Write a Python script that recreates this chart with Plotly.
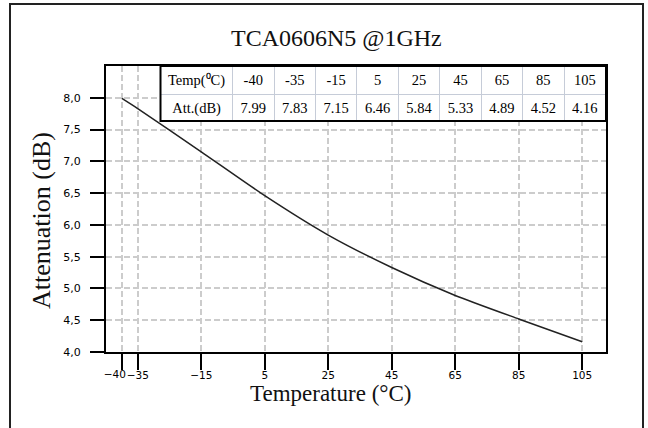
import plotly.graph_objects as go

temps = [-40, -35, -15, 5, 25, 45, 65, 85, 105]
atten = [7.99, 7.83, 7.15, 6.46, 5.84, 5.33, 4.89, 4.52, 4.16]
ytick_vals = [4.0, 4.5, 5.0, 5.5, 6.0, 6.5, 7.0, 7.5, 8.0]
title_text = "TCA0606N5 @1GHz"
x_title = "Temperature (°C)"
y_title = "Attenuation (dB)"
row_labels = ["Temp(\u2070C)", "Att.(dB)"]


def fmt_tick(t):
    return f"{t}".replace("-", "\u2212")


x_tick_text = [""] + [fmt_tick(t) for t in temps[1:]]
x_first_tick_text = [fmt_tick(temps[0])]

W, H = 648, 428
L, T = 106, 66
PW, PH = 500, 286
R, B = W - L - PW, H - T - PH


def px(x):
    return (x - L) / PW


def py(y):
    return (T + PH - y) / PH


fig = go.Figure()

fig.add_trace(go.Scatter(
    x=temps, y=atten, mode="lines",
    line=dict(color="#222222", width=1.5, shape="spline", smoothing=0.6),
    showlegend=False, hoverinfo="skip",
))
# invisible anchor trace for the secondary x axis (carries the first tick label)
fig.add_trace(go.Scatter(
    x=temps[:1], y=atten[:1], xaxis="x2", yaxis="y", mode="markers",
    marker=dict(opacity=0), showlegend=False, hoverinfo="skip",
))

tx0, tx1 = px(160.5), 1.0
ty0, ty1 = py(121), 1.0
fig.add_trace(go.Table(
    domain=dict(x=[tx0, tx1], y=[ty0, ty1]),
    columnwidth=[72] + [41.4] * len(temps),
    header=dict(
        values=[row_labels[0]] + [f"{t}" for t in temps],
        height=28, align="center",
        fill_color="white",
        line=dict(color="#c6ccd8", width=1),
        font=dict(family="Liberation Serif", size=14.5, color="black"),
    ),
    cells=dict(
        values=[[row_labels[1]]] + [[f"{a:.2f}"] for a in atten],
        height=27, align="center",
        fill_color="white",
        line=dict(color="#c6ccd8", width=1),
        font=dict(family="Liberation Serif", size=14.5, color="black"),
    ),
))

fig.add_shape(type="rect", xref="paper", yref="paper",
              x0=tx0, x1=tx1, y0=ty0, y1=ty1,
              line=dict(color="black", width=2), layer="above")

# outer frame
fig.add_shape(type="rect", xref="paper", yref="paper",
              x0=px(10), x1=px(643), y0=py(445), y1=py(4),
              line=dict(color="#222222", width=2), layer="above")

fig.add_annotation(text=title_text, xref="paper", yref="paper",
                   x=px(336.7), y=py(38), xanchor="center", yanchor="middle",
                   showarrow=False,
                   font=dict(family="Liberation Serif", size=24, color="#111"))
fig.add_annotation(text=x_title, xref="paper", yref="paper",
                   x=px(330.5), y=py(393), xanchor="center", yanchor="middle",
                   showarrow=False,
                   font=dict(family="Liberation Serif", size=23, color="#111"))
fig.add_annotation(text=y_title, xref="paper", yref="paper",
                   x=px(41), y=py(221), xanchor="center", yanchor="middle",
                   textangle=-90, showarrow=False,
                   font=dict(family="Liberation Serif", size=26, color="#111"))

x_range = [-45, 112.5]
tick_font = dict(family="DejaVu Sans", size=10.5, color="black")
grid = dict(showgrid=True, gridcolor="#cccccc", gridwidth=1.5, griddash="6px,3px")
fig.update_layout(
    xaxis=dict(
        range=x_range, tickvals=temps, ticktext=x_tick_text, ticks="outside",
        ticklen=16, tickwidth=2, tickcolor="black", showline=True,
        linecolor="black", linewidth=2, mirror=True, zeroline=False,
        tickangle=0, ticklabelstandoff=-4, tickfont=tick_font, **grid,
    ),
    xaxis2=dict(
        range=x_range, overlaying="x", anchor="y", side="bottom",
        tickvals=temps[:1], ticktext=x_first_tick_text, ticks="outside",
        ticklen=16, tickwidth=2, tickcolor="black", showline=False,
        showgrid=False, zeroline=False, tickangle=0, ticklabelstandoff=-4,
        ticklabelshift=-7, tickfont=tick_font,
    ),
    yaxis=dict(
        range=[4.0, 8.5], tickvals=ytick_vals, tickformat=".1f",
        ticks="outside", ticklen=14, tickwidth=2, tickcolor="black",
        showline=True, linecolor="black", linewidth=2, mirror=True,
        zeroline=False, ticklabelstandoff=7,
        tickfont=dict(family="DejaVu Sans", size=11, color="black"), **grid,
    ),
    width=W, height=H, margin=dict(l=L, r=R, t=T, b=B, autoexpand=False),
    paper_bgcolor="white", plot_bgcolor="white", separators=",.",
    showlegend=False,
)
fig.write_html(
    "out.html",
    config={"displayModeBar": False},
    post_script="document.body.style.margin='0px';"
                "document.body.style.overflow='hidden';",
)
